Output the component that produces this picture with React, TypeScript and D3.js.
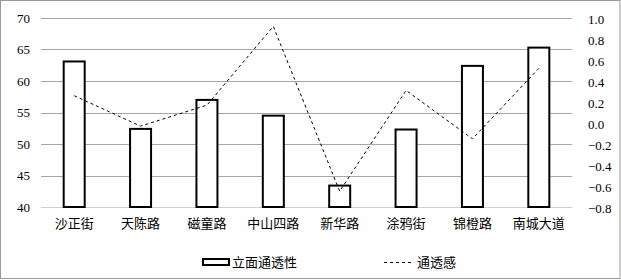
import React from "react";
import * as d3 from "d3";

const categories = ["沙正街", "天陈路", "磁童路", "中山四路", "新华路", "涂鸦街", "锦橙路", "南城大道"];
const facadeValues = [63.1, 52.4, 57.0, 54.5, 43.4, 52.3, 62.4, 65.3];
const permeability = [0.26, -0.03, 0.17, 0.92, -0.65, 0.31, -0.15, 0.52];
const leftTicks = [40, 45, 50, 55, 60, 65, 70];
const rightTicks = [-0.8, -0.6, -0.4, -0.2, 0.0, 0.2, 0.4, 0.6, 0.8, 1.0];
const barLabel = "立面通透性";
const lineLabel = "通透感";

const W = 621;
const H = 280;
const plot = { left: 41, right: 572, top: 18, bottom: 207 };
const numFont = "Liberation Serif, Times New Roman, serif";
const cjkFont = "Noto Sans CJK SC, sans-serif";

export default function App() {
  const yL = d3.scaleLinear().domain([40, 70]).range([plot.bottom, plot.top]);
  const yR = d3.scaleLinear().domain([-0.8, 1.0]).range([plot.bottom, plot.top]);
  const x = d3.scalePoint<string>().domain(categories).range([plot.left, plot.right]).padding(0.5);
  const cx = (c: string) => x(c) as number;
  const bw = 21;
  const line = d3
    .line<number>()
    .x((_, i) => cx(categories[i]))
    .y((d) => yR(d));

  return (
    <svg width={W} height={H} style={{ position: "absolute", left: 0, top: 0, background: "#fff" }}>
      <rect x={0.5} y={0.5} width={W - 1.5} height={H - 2} fill="#fff" stroke="#999" strokeWidth={1} />
      {leftTicks.map((t) => (
        <line key={t} x1={plot.left} x2={plot.right} y1={Math.round(yL(t)) + 0.5} y2={Math.round(yL(t)) + 0.5} stroke={t === 40 ? "#d0d0d0" : "#a6a6a6"} strokeWidth={1} />
      ))}
      {leftTicks.map((t) => (
        <text key={"l" + t} x={30} y={yL(t)} dy="0.35em" textAnchor="end" style={{ fontFamily: numFont }} fontSize={13} fill="#000">
          {t}
        </text>
      ))}
      {rightTicks.map((t) => (
        <text key={"r" + t} x={588} y={yR(t) + 1} dy="0.35em" textAnchor="start" style={{ fontFamily: numFont }} fontSize={13} fill="#000">
          {(t < 0 ? "\u2212" : "") + Math.abs(t).toFixed(1)}
        </text>
      ))}
      {categories.map((c, i) => (
        <rect key={"b" + c} x={cx(c) - bw / 2} y={yL(facadeValues[i])} width={bw} height={yL(40) - yL(facadeValues[i])} fill="#fff" stroke="#000" strokeWidth={2} />
      ))}
      <path d={line(permeability) || ""} fill="none" stroke="#000" strokeWidth={1} strokeDasharray="3,3" />
      {categories.map((c) => (
        <text key={"c" + c} x={cx(c)} y={223} dy="0.35em" textAnchor="middle" style={{ fontFamily: cjkFont }} fontSize={13} fill="#000">
          {c}
        </text>
      ))}
      <rect x={203} y={259} width={26} height={6} fill="#fff" stroke="#000" strokeWidth={2} />
      <text x={232} y={262} dy="0.35em" style={{ fontFamily: cjkFont }} fontSize={13} fill="#000">
        {barLabel}
      </text>
      <line x1={384} x2={413} y1={262.5} y2={262.5} stroke="#000" strokeWidth={1} strokeDasharray="3,3" />
      <text x={417} y={262} dy="0.35em" style={{ fontFamily: cjkFont }} fontSize={13} fill="#000">
        {lineLabel}
      </text>
    </svg>
  );
}
